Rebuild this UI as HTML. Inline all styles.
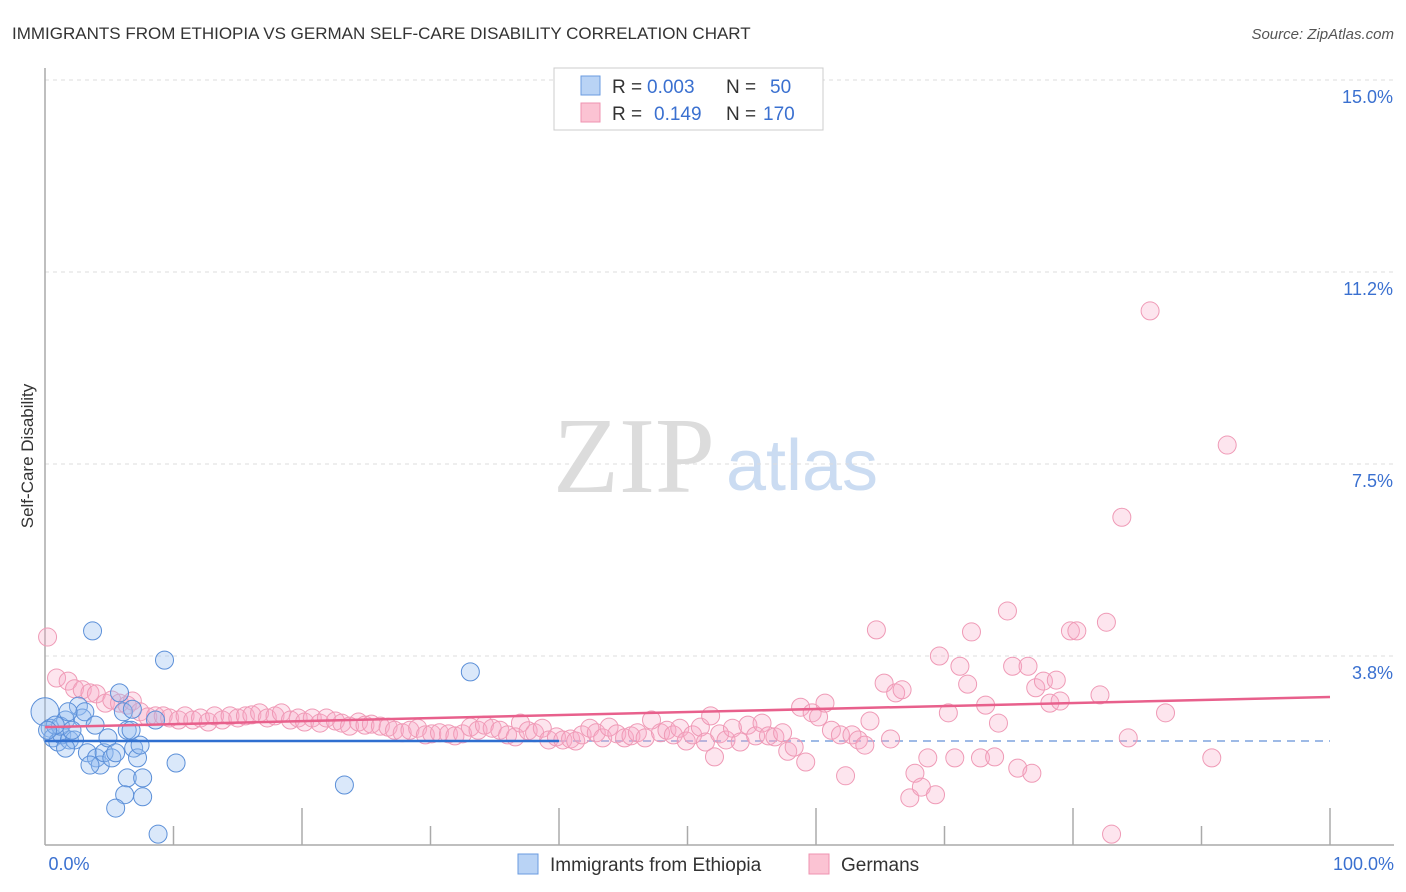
<!DOCTYPE html>
<html><head><meta charset="utf-8"><style>
body{margin:0;background:#fff;font-family:"Liberation Sans",sans-serif}
svg{display:block}
</style></head><body>
<svg id="chart" width="1406" height="892" xmlns="http://www.w3.org/2000/svg">
<text x="12" y="39" font-size="17" fill="#333">IMMIGRANTS FROM ETHIOPIA VS GERMAN SELF-CARE DISABILITY CORRELATION CHART</text>
<text x="1394" y="39" font-size="15" fill="#555" font-style="italic" text-anchor="end">Source: ZipAtlas.com</text>
<text x="33" y="456" font-size="17" fill="#333" text-anchor="middle" transform="rotate(-90 33 456)">Self-Care Disability</text>
<g>
<text x="634" y="492" font-size="108" font-family="Liberation Serif,serif" fill="#dcdcdc" text-anchor="middle">ZIP</text>
<text x="802" y="490" font-size="72" fill="#cbdcf2" text-anchor="middle">atlas</text>
</g>
<g id="grid"></g><g id="axes"></g><g id="trend"></g><g id="pts"></g>
<g>
<rect x="554" y="68" width="269" height="62" fill="#fff" stroke="#ccc"/>
<rect x="581" y="76" width="19" height="19" fill="#b9d3f5" stroke="#6a9be0"/>
<rect x="581" y="103" width="19" height="19" fill="#fbc3d3" stroke="#ef93b0"/>
<text x="612" y="93" font-size="19" fill="#333">R =</text>
<text x="647" y="93" font-size="19" fill="#3a70d0">0.003</text>
<text x="726" y="93" font-size="19" fill="#333">N =</text>
<text x="770" y="93" font-size="19" fill="#3a70d0">50</text>
<text x="612" y="120" font-size="19" fill="#333">R =</text>
<text x="654" y="120" font-size="19" fill="#3a70d0">0.149</text>
<text x="726" y="120" font-size="19" fill="#333">N =</text>
<text x="763" y="120" font-size="19" fill="#3a70d0">170</text>
</g>
<g>
<rect x="518" y="854" width="20" height="20" fill="#b9d3f5" stroke="#6a9be0"/>
<text x="550" y="871" font-size="19" fill="#333">Immigrants from Ethiopia</text>
<rect x="809" y="854" width="20" height="20" fill="#fbc3d3" stroke="#ef93b0"/>
<text x="841" y="871" font-size="19" fill="#333">Germans</text>
</g>
</svg>
<script>
const yTicks=[3.75,7.5,11.25,15];
const yTickLabels=["3.8%","7.5%","11.2%","15.0%"];
const xTickLabels=["0.0%","100.0%"];
const blueX=[0.0,0.4,0.6,1.0,1.3,1.6,1.9,2.3,2.6,2.9,3.1,3.3,3.7,3.9,4.0,4.3,4.6,4.9,5.2,5.5,5.8,6.1,6.4,6.7,6.9,7.2,7.4,6.4,7.6,6.2,7.6,5.5,6.8,9.3,8.6,10.2,8.8,23.3,33.1,1.2,2.1,1.8,0.8,0.2,1.6,3.5];
const blueY=[2.66,2.34,2.15,2.07,2.21,2.50,2.11,2.11,2.77,2.54,2.66,1.86,4.24,2.40,1.76,1.62,1.86,2.15,1.76,1.86,3.03,2.66,2.30,2.30,1.95,1.76,2.01,1.37,1.37,1.04,1.00,0.78,2.71,3.67,2.50,1.66,0.27,1.23,3.44,2.38,2.30,2.66,2.40,2.30,1.95,1.62];
const pinkX=[0.2,0.9,1.8,2.3,2.9,3.5,4.0,4.7,5.2,5.8,6.4,6.8,7.4,8.0,8.6,9.2,9.7,10.4,10.9,11.5,12.1,12.7,13.2,13.8,14.4,15.0,15.6,16.1,16.7,17.3,17.9,18.4,19.1,19.7,20.2,20.8,21.4,21.9,22.6,23.1,23.7,24.4,24.9,25.4,26.1,26.7,27.2,27.8,28.4,29.0,29.6,30.1,30.7,31.4,31.9,32.5,33.1,33.7,34.2,34.8,35.4,36.0,36.6,37.0,37.6,38.1,38.7,39.2,39.8,40.3,40.9,41.3,41.8,42.4,42.9,43.4,43.9,44.5,45.1,45.6,46.1,46.7,47.2,47.9,48.4,48.9,49.4,49.9,50.4,51.0,51.4,51.8,52.1,52.5,53.0,53.5,54.1,54.7,55.3,55.8,56.3,56.8,57.4,57.8,58.3,58.8,59.2,59.7,60.2,60.7,61.2,61.9,62.3,62.8,63.3,63.8,64.2,64.7,65.3,65.8,66.2,66.7,67.3,67.7,68.2,68.7,69.3,69.6,70.3,70.8,71.2,71.8,72.1,72.8,73.2,73.9,74.2,74.9,75.3,75.7,76.5,76.8,77.1,77.7,78.2,78.7,79.0,79.8,80.3,82.1,82.6,83.0,83.8,84.3,86.0,87.2,90.8,92.0];
const pinkY=[4.12,3.32,3.26,3.11,3.09,3.03,3.01,2.83,2.89,2.83,2.79,2.87,2.66,2.56,2.58,2.58,2.54,2.50,2.58,2.50,2.54,2.46,2.58,2.50,2.58,2.54,2.58,2.60,2.64,2.54,2.58,2.64,2.50,2.54,2.46,2.54,2.44,2.54,2.48,2.44,2.38,2.46,2.40,2.42,2.38,2.36,2.30,2.25,2.30,2.34,2.21,2.23,2.25,2.23,2.19,2.23,2.36,2.30,2.40,2.34,2.30,2.21,2.17,2.44,2.29,2.25,2.34,2.11,2.17,2.11,2.13,2.09,2.21,2.34,2.25,2.15,2.36,2.23,2.15,2.19,2.25,2.15,2.50,2.25,2.30,2.21,2.34,2.09,2.21,2.36,2.07,2.58,1.78,2.23,2.11,2.34,2.07,2.40,2.19,2.44,2.19,2.17,2.25,1.89,1.97,2.75,1.68,2.64,2.56,2.83,2.30,2.21,1.41,2.21,2.11,2.01,2.48,4.26,3.22,2.13,3.03,3.09,0.98,1.46,1.19,1.76,1.04,3.75,2.64,1.76,3.55,3.20,4.22,1.76,2.79,1.78,2.44,4.63,3.55,1.56,3.55,1.46,3.13,3.26,2.83,3.28,2.87,4.24,4.24,2.99,4.41,0.27,6.46,2.15,10.49,2.64,1.76,7.87];
const pinkTrend=[2.36,2.95];
const blueTrend=[2.09,2.09];
const NS="http://www.w3.org/2000/svg";
const X0=45,X1=1330,Y0=848,YTOP=80;
const sx=v=>X0+(v/100)*(X1-X0);
const sy=v=>Y0-(v/15)*(Y0-YTOP);
function mk(t,a,p){const e=document.createElementNS(NS,t);for(const k in a)e.setAttribute(k,a[k]);p.appendChild(e);return e;}
const grid=document.getElementById('grid'),axes=document.getElementById('axes');
yTicks.forEach((v,i)=>{
 const l=mk('line',{x1:X0,x2:1394,y1:sy(v),y2:sy(v),stroke:'#ddd','stroke-dasharray':'4,4'},grid);
 
 
 const t=mk('text',{x:1393,y:sy(v)+23,'font-size':18,fill:'#3a70d0','text-anchor':'end'},axes);
 t.textContent=yTickLabels[i];
 
 
});
const ax=mk('line',{x1:X0,x2:1394,y1:845,y2:845,stroke:'#aaa','stroke-width':1.5},axes);


const ay=mk('line',{x1:X0,x2:X0,y1:68,y2:845,stroke:'#aaa','stroke-width':1.5},axes);


for(let i=1;i<=10;i++){
 const x=sx(i*10);
 const tk=mk('line',{x1:x,x2:x,y1:(i%2?826:808),y2:845,stroke:'#aaa','stroke-width':1.5},axes);
 
 
}
[[X0+24,xTickLabels[0]],[1394,xTickLabels[1]]].forEach(([x,s],i)=>{
 const t=mk('text',{x:x,y:870,'font-size':18,fill:'#3a70d0','text-anchor':i?'end':'middle'},axes);
 t.textContent=s;
 
 
});
const pts=document.getElementById('pts');
pinkX.forEach((v,i)=>{
 const c=mk('circle',{cx:sx(v),cy:sy(pinkY[i]),r:9,fill:'rgba(248,170,198,0.3)',stroke:'#ef9ab6','stroke-width':1},pts);
 
 
});
blueX.forEach((v,i)=>{
 const r=i===0?14:9;
 const c=mk('circle',{cx:sx(v),cy:sy(blueY[i]),r:r,fill:'rgba(150,190,240,0.35)',stroke:'#5b8fd8','stroke-width':1},pts);
 
 
});
const tr=document.getElementById('trend');
const pl=mk('line',{x1:sx(0),x2:sx(100),y1:sy(pinkTrend[0]),y2:sy(pinkTrend[1]),stroke:'#e8608c','stroke-width':2.5},pts);


const bl=mk('line',{x1:sx(0),x2:sx(40),y1:sy(blueTrend[0]),y2:sy(blueTrend[0]+(blueTrend[1]-blueTrend[0])*0.4),stroke:'#2f6fd0','stroke-width':2.5},pts);


const bd=mk('line',{x1:sx(40),x2:sx(100),y1:sy(blueTrend[0]+(blueTrend[1]-blueTrend[0])*0.4),y2:sy(blueTrend[1]),stroke:'#7fa3dd','stroke-width':1.5,'stroke-dasharray':'8,6'},tr);


</script>
</body></html>
